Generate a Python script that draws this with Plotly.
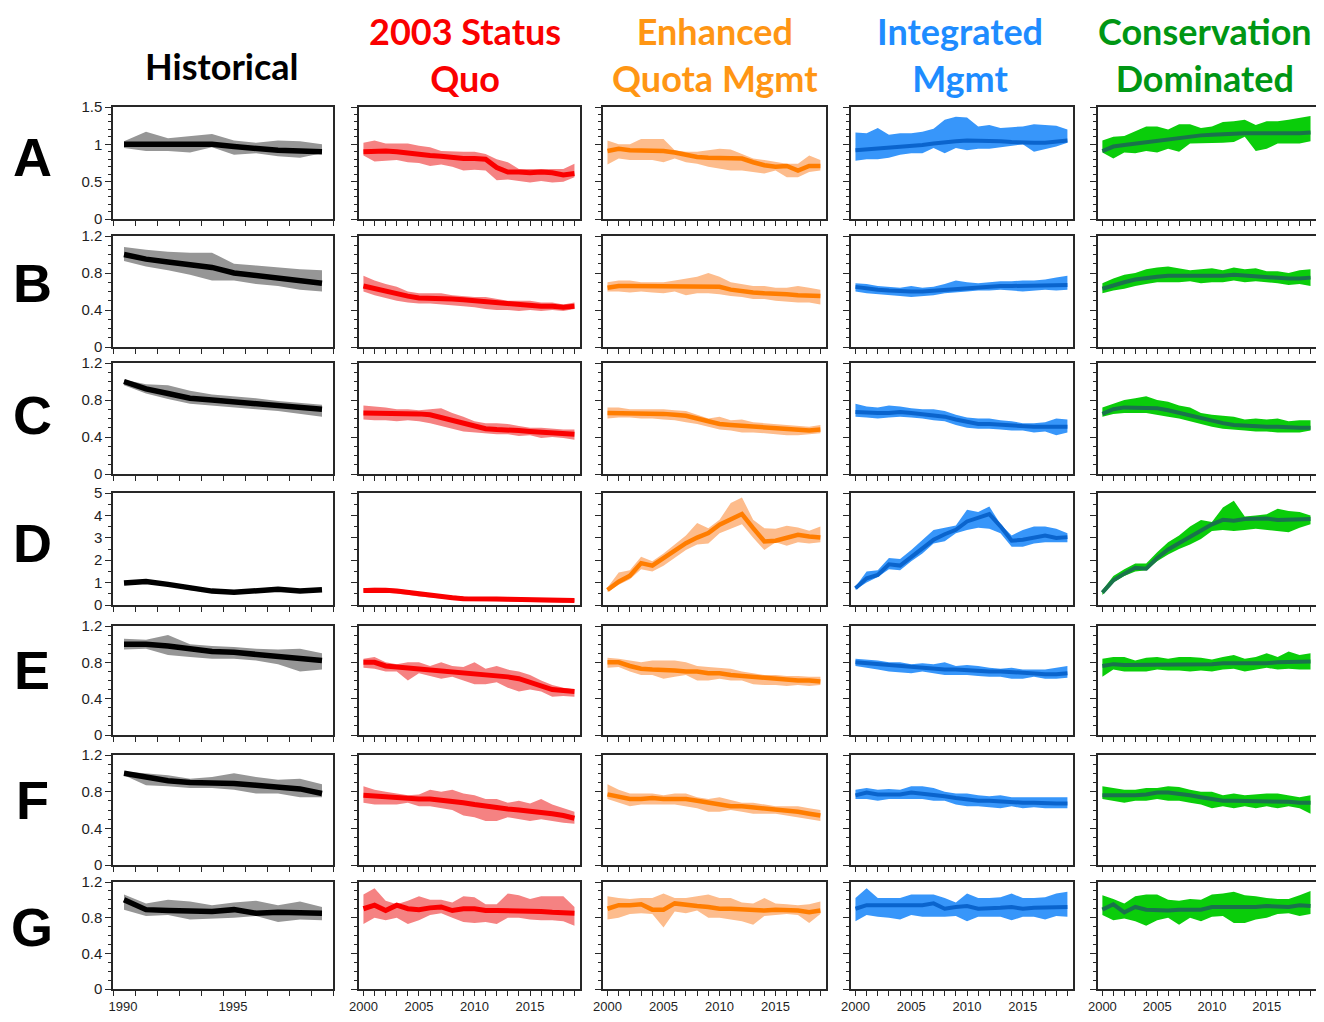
import plotly.graph_objects as go

# ---------------- data ----------------
hist_years = list(range(1990, 2000))
proj_years = list(range(2000, 2020))

row_labels = ["A", "B", "C", "D", "E", "F", "G"]
scenario_keys = ["hist", "sq", "eq", "im", "cd"]
scenario_titles = ["Historical", "2003 Status<br>Quo", "Enhanced<br>Quota Mgmt", "Integrated<br>Mgmt", "Conservation<br>Dominated"]

y_max = [1.5, 1.2, 1.2, 5, 1.2, 1.2, 1.2]
y_tickvals = [[0, 0.5, 1, 1.5], [0, 0.4, 0.8, 1.2], [0, 0.4, 0.8, 1.2], [0, 1, 2, 3, 4, 5],
              [0, 0.4, 0.8, 1.2], [0, 0.4, 0.8, 1.2], [0, 0.4, 0.8, 1.2]]
y_ticktext = [["0", "0.5", "1", "1.5"], ["0", "0.4", "0.8", "1.2"], ["0", "0.4", "0.8", "1.2"],
              ["0", "1", "2", "3", "4", "5"], ["0", "0.4", "0.8", "1.2"], ["0", "0.4", "0.8", "1.2"],
              ["0", "0.4", "0.8", "1.2"]]
x_label_hist = ["1990", "1995"]
x_label_proj = ["2000", "2005", "2010", "2015"]

# Row A
A_hist_mid = [1.00, 1.00, 1.01, 1.01, 1.00, 0.97, 0.94, 0.92, 0.91, 0.90]
A_hist_hi = [1.04, 1.17, 1.08, 1.11, 1.14, 1.05, 1.02, 1.05, 1.04, 1.00]
A_hist_lo = [0.95, 0.91, 0.91, 0.89, 0.96, 0.86, 0.88, 0.84, 0.82, 0.88]
A_sq_mid = [0.90, 0.91, 0.91, 0.90, 0.88, 0.87, 0.85, 0.84, 0.82, 0.81, 0.81, 0.80, 0.69, 0.63, 0.63, 0.62, 0.63, 0.62, 0.59, 0.61]
A_sq_hi = [1.02, 1.05, 1.01, 1.01, 1.01, 0.98, 0.96, 0.91, 0.90, 0.90, 0.90, 0.87, 0.80, 0.76, 0.67, 0.67, 0.67, 0.68, 0.67, 0.74]
A_sq_lo = [0.85, 0.77, 0.78, 0.79, 0.76, 0.75, 0.71, 0.73, 0.70, 0.65, 0.66, 0.65, 0.52, 0.53, 0.51, 0.49, 0.51, 0.49, 0.50, 0.56]
A_eq_mid = [0.91, 0.94, 0.92, 0.92, 0.92, 0.91, 0.89, 0.86, 0.83, 0.82, 0.82, 0.82, 0.81, 0.76, 0.72, 0.70, 0.71, 0.65, 0.71, 0.71]
A_eq_hi = [1.05, 1.00, 1.00, 1.07, 1.07, 1.07, 0.92, 0.90, 0.90, 0.92, 0.94, 0.93, 0.87, 0.81, 0.79, 0.76, 0.74, 0.74, 0.85, 0.79]
A_eq_lo = [0.73, 0.81, 0.79, 0.79, 0.79, 0.76, 0.81, 0.76, 0.74, 0.70, 0.67, 0.65, 0.65, 0.63, 0.61, 0.65, 0.56, 0.56, 0.63, 0.65]
A_im_mid = [0.92, 0.93, 0.94, 0.95, 0.96, 0.97, 0.99, 1.01, 1.03, 1.04, 1.05, 1.05, 1.05, 1.04, 1.03, 1.02, 1.02, 1.02, 1.03, 1.05]
A_im_hi = [1.16, 1.15, 1.22, 1.13, 1.15, 1.15, 1.17, 1.21, 1.33, 1.37, 1.36, 1.24, 1.26, 1.22, 1.23, 1.24, 1.27, 1.26, 1.25, 1.20]
A_im_lo = [0.78, 0.80, 0.80, 0.82, 0.86, 0.88, 0.88, 0.95, 0.88, 0.95, 0.92, 0.94, 0.94, 0.96, 0.98, 1.00, 0.90, 0.93, 0.97, 1.02]
A_cd_mid = [0.91, 0.97, 0.99, 1.01, 1.03, 1.05, 1.07, 1.09, 1.11, 1.12, 1.13, 1.14, 1.15, 1.15, 1.15, 1.15, 1.14, 1.15, 1.15, 1.16]
A_cd_hi = [1.05, 1.10, 1.11, 1.17, 1.24, 1.24, 1.20, 1.27, 1.27, 1.22, 1.24, 1.30, 1.31, 1.33, 1.26, 1.31, 1.31, 1.33, 1.36, 1.38]
A_cd_lo = [0.89, 0.81, 0.89, 0.88, 0.91, 0.89, 0.94, 0.90, 1.01, 1.02, 1.02, 1.02, 1.03, 1.10, 0.91, 0.94, 1.01, 1.01, 1.01, 1.04]

# Row B
B_hist_mid = [1.00, 0.95, 0.92, 0.89, 0.86, 0.80, 0.77, 0.74, 0.71, 0.69]
B_hist_hi = [1.08, 1.05, 1.03, 1.02, 1.02, 0.90, 0.88, 0.86, 0.84, 0.83]
B_hist_lo = [0.93, 0.87, 0.83, 0.78, 0.72, 0.72, 0.68, 0.66, 0.62, 0.60]
B_sq_mid = [0.66, 0.63, 0.60, 0.57, 0.55, 0.53, 0.53, 0.52, 0.52, 0.51, 0.50, 0.48, 0.47, 0.46, 0.45, 0.45, 0.44, 0.44, 0.43, 0.44]
B_sq_hi = [0.77, 0.72, 0.68, 0.65, 0.60, 0.58, 0.58, 0.58, 0.56, 0.55, 0.54, 0.54, 0.52, 0.50, 0.50, 0.50, 0.48, 0.48, 0.46, 0.48]
B_sq_lo = [0.60, 0.56, 0.53, 0.50, 0.48, 0.47, 0.47, 0.46, 0.45, 0.44, 0.43, 0.41, 0.40, 0.40, 0.39, 0.40, 0.39, 0.40, 0.39, 0.41]
B_eq_mid = [0.64, 0.66, 0.66, 0.66, 0.66, 0.65, 0.65, 0.65, 0.66, 0.66, 0.65, 0.62, 0.60, 0.59, 0.58, 0.58, 0.57, 0.56, 0.56, 0.55]
B_eq_hi = [0.70, 0.72, 0.72, 0.70, 0.70, 0.70, 0.72, 0.74, 0.76, 0.80, 0.76, 0.70, 0.68, 0.66, 0.66, 0.64, 0.64, 0.66, 0.64, 0.62]
B_eq_lo = [0.60, 0.60, 0.59, 0.60, 0.59, 0.58, 0.60, 0.56, 0.58, 0.58, 0.57, 0.55, 0.54, 0.52, 0.52, 0.50, 0.49, 0.48, 0.48, 0.46]
B_im_mid = [0.65, 0.63, 0.62, 0.61, 0.60, 0.60, 0.60, 0.61, 0.62, 0.63, 0.64, 0.65, 0.66, 0.66, 0.66, 0.66, 0.67, 0.67, 0.67, 0.67]
B_im_hi = [0.69, 0.68, 0.66, 0.65, 0.64, 0.66, 0.64, 0.65, 0.68, 0.72, 0.70, 0.69, 0.70, 0.71, 0.71, 0.72, 0.72, 0.73, 0.75, 0.77]
B_im_lo = [0.60, 0.58, 0.57, 0.56, 0.55, 0.54, 0.55, 0.56, 0.58, 0.59, 0.60, 0.61, 0.61, 0.62, 0.61, 0.60, 0.61, 0.62, 0.61, 0.62]
B_cd_mid = [0.63, 0.67, 0.70, 0.73, 0.75, 0.76, 0.77, 0.77, 0.77, 0.76, 0.77, 0.77, 0.78, 0.77, 0.77, 0.76, 0.75, 0.74, 0.74, 0.75]
B_cd_hi = [0.69, 0.74, 0.78, 0.80, 0.84, 0.86, 0.87, 0.85, 0.83, 0.84, 0.85, 0.83, 0.86, 0.84, 0.85, 0.82, 0.82, 0.80, 0.83, 0.84]
B_cd_lo = [0.58, 0.61, 0.63, 0.66, 0.68, 0.70, 0.70, 0.70, 0.71, 0.69, 0.70, 0.70, 0.72, 0.70, 0.71, 0.70, 0.69, 0.67, 0.68, 0.66]

# Row C
C_hist_mid = [1.00, 0.92, 0.87, 0.82, 0.80, 0.78, 0.76, 0.74, 0.72, 0.70]
C_hist_hi = [1.02, 0.97, 0.96, 0.90, 0.86, 0.84, 0.82, 0.79, 0.77, 0.75]
C_hist_lo = [0.96, 0.87, 0.81, 0.76, 0.74, 0.72, 0.70, 0.68, 0.65, 0.62]
C_sq_mid = [0.66, 0.66, 0.66, 0.66, 0.66, 0.65, 0.64, 0.61, 0.57, 0.54, 0.51, 0.49, 0.48, 0.48, 0.47, 0.46, 0.45, 0.44, 0.44, 0.43]
C_sq_hi = [0.74, 0.73, 0.72, 0.70, 0.70, 0.69, 0.70, 0.71, 0.66, 0.62, 0.57, 0.55, 0.55, 0.54, 0.52, 0.50, 0.50, 0.49, 0.48, 0.48]
C_sq_lo = [0.59, 0.58, 0.58, 0.57, 0.58, 0.57, 0.55, 0.52, 0.49, 0.46, 0.45, 0.44, 0.43, 0.43, 0.41, 0.42, 0.39, 0.40, 0.39, 0.37]
C_eq_mid = [0.66, 0.66, 0.66, 0.65, 0.65, 0.65, 0.64, 0.63, 0.60, 0.57, 0.54, 0.53, 0.52, 0.51, 0.50, 0.49, 0.48, 0.48, 0.47, 0.48]
C_eq_hi = [0.72, 0.72, 0.70, 0.70, 0.70, 0.70, 0.69, 0.68, 0.64, 0.60, 0.62, 0.58, 0.59, 0.56, 0.55, 0.54, 0.53, 0.52, 0.51, 0.53]
C_eq_lo = [0.60, 0.61, 0.61, 0.60, 0.60, 0.59, 0.58, 0.56, 0.54, 0.51, 0.48, 0.47, 0.45, 0.45, 0.44, 0.43, 0.42, 0.42, 0.43, 0.44]
C_im_mid = [0.67, 0.66, 0.66, 0.66, 0.67, 0.66, 0.65, 0.64, 0.62, 0.59, 0.56, 0.54, 0.54, 0.53, 0.52, 0.52, 0.51, 0.51, 0.51, 0.51]
C_im_hi = [0.76, 0.73, 0.72, 0.74, 0.73, 0.71, 0.70, 0.70, 0.68, 0.64, 0.61, 0.60, 0.60, 0.58, 0.57, 0.55, 0.55, 0.56, 0.60, 0.59]
C_im_lo = [0.62, 0.61, 0.60, 0.61, 0.62, 0.61, 0.60, 0.58, 0.57, 0.53, 0.50, 0.49, 0.49, 0.48, 0.47, 0.47, 0.45, 0.46, 0.42, 0.45]
C_cd_mid = [0.65, 0.70, 0.72, 0.72, 0.72, 0.71, 0.69, 0.66, 0.63, 0.60, 0.57, 0.55, 0.53, 0.52, 0.52, 0.51, 0.51, 0.50, 0.50, 0.50]
C_cd_hi = [0.72, 0.76, 0.80, 0.82, 0.84, 0.80, 0.78, 0.74, 0.72, 0.66, 0.64, 0.63, 0.62, 0.59, 0.60, 0.59, 0.60, 0.57, 0.58, 0.58]
C_cd_lo = [0.62, 0.65, 0.66, 0.66, 0.66, 0.64, 0.62, 0.60, 0.57, 0.54, 0.51, 0.49, 0.48, 0.47, 0.46, 0.46, 0.45, 0.45, 0.45, 0.47]

# Row D
D_hist_mid = [0.98, 1.05, 0.92, 0.74, 0.62, 0.57, 0.63, 0.70, 0.62, 0.68]
D_hist_hi = [1.05, 1.13, 1.00, 0.82, 0.70, 0.66, 0.72, 0.80, 0.70, 0.76]
D_hist_lo = [0.92, 0.98, 0.85, 0.66, 0.55, 0.50, 0.56, 0.62, 0.55, 0.60]
D_sq_mid = [0.65, 0.66, 0.66, 0.62, 0.56, 0.46, 0.40, 0.36, 0.32, 0.28, 0.26, 0.26, 0.27, 0.26, 0.25, 0.23, 0.21, 0.18, 0.17, 0.20]
D_sq_hi = [0.75, 0.78, 0.76, 0.72, 0.66, 0.56, 0.50, 0.46, 0.42, 0.38, 0.34, 0.36, 0.37, 0.35, 0.34, 0.32, 0.30, 0.27, 0.26, 0.28]
D_sq_lo = [0.56, 0.56, 0.56, 0.52, 0.46, 0.38, 0.32, 0.28, 0.24, 0.20, 0.18, 0.18, 0.19, 0.18, 0.17, 0.15, 0.13, 0.11, 0.10, 0.13]
D_eq_mid = [0.67, 1.04, 1.31, 1.87, 1.76, 2.09, 2.39, 2.76, 3.01, 3.21, 3.58, 3.81, 4.06, 3.43, 2.84, 2.87, 2.99, 3.13, 3.06, 3.01]
D_eq_hi = [0.78, 1.45, 1.55, 2.15, 1.95, 2.30, 2.70, 3.10, 3.66, 3.43, 3.81, 4.55, 4.80, 3.81, 3.43, 3.40, 3.54, 3.46, 3.31, 3.51]
D_eq_lo = [0.58, 0.90, 1.15, 1.60, 1.50, 1.75, 2.10, 2.45, 2.70, 2.75, 3.20, 3.40, 3.60, 3.00, 2.45, 2.80, 2.65, 2.80, 2.75, 2.80]
D_im_mid = [0.75, 1.19, 1.34, 1.82, 1.76, 2.16, 2.54, 2.91, 3.16, 3.36, 3.73, 3.91, 4.06, 3.51, 2.87, 2.91, 2.99, 3.10, 2.99, 3.03]
D_im_hi = [0.82, 1.50, 1.55, 2.10, 2.05, 2.45, 2.90, 3.35, 3.45, 3.55, 4.25, 4.15, 4.40, 3.60, 3.10, 3.35, 3.50, 3.50, 3.40, 3.20]
D_im_lo = [0.68, 1.00, 1.25, 1.60, 1.55, 1.95, 2.30, 2.75, 2.85, 3.20, 3.35, 3.45, 3.40, 3.20, 2.60, 2.60, 2.75, 2.80, 2.80, 2.80]
D_cd_mid = [0.55, 1.10, 1.40, 1.66, 1.62, 2.10, 2.48, 2.76, 3.04, 3.30, 3.60, 3.80, 3.76, 3.84, 3.86, 3.86, 3.80, 3.80, 3.82, 3.84]
D_cd_hi = [0.66, 1.30, 1.60, 1.85, 1.85, 2.35, 2.80, 3.10, 3.50, 3.80, 3.70, 4.35, 4.65, 3.95, 4.00, 4.05, 4.30, 4.20, 4.15, 4.00]
D_cd_lo = [0.45, 1.00, 1.30, 1.50, 1.55, 1.95, 2.25, 2.50, 2.70, 2.95, 3.30, 3.35, 3.30, 3.35, 3.40, 3.35, 3.30, 3.25, 3.45, 3.60]

# Row E
E_hist_mid = [1.00, 1.00, 0.98, 0.95, 0.92, 0.91, 0.89, 0.87, 0.85, 0.82]
E_hist_hi = [1.06, 1.05, 1.10, 1.00, 0.98, 0.97, 0.95, 0.94, 0.95, 0.90]
E_hist_lo = [0.94, 0.95, 0.88, 0.86, 0.84, 0.84, 0.82, 0.78, 0.70, 0.72]
E_sq_mid = [0.80, 0.80, 0.76, 0.75, 0.74, 0.73, 0.72, 0.71, 0.70, 0.68, 0.67, 0.66, 0.65, 0.64, 0.62, 0.58, 0.54, 0.50, 0.49, 0.48]
E_sq_hi = [0.84, 0.86, 0.80, 0.78, 0.80, 0.80, 0.76, 0.80, 0.76, 0.75, 0.80, 0.73, 0.76, 0.72, 0.70, 0.66, 0.60, 0.55, 0.52, 0.50]
E_sq_lo = [0.74, 0.73, 0.70, 0.70, 0.60, 0.68, 0.65, 0.62, 0.64, 0.60, 0.56, 0.56, 0.58, 0.52, 0.48, 0.50, 0.48, 0.42, 0.43, 0.42]
E_eq_mid = [0.80, 0.80, 0.76, 0.73, 0.72, 0.72, 0.71, 0.70, 0.70, 0.68, 0.68, 0.66, 0.65, 0.63, 0.62, 0.61, 0.61, 0.60, 0.60, 0.59]
E_eq_hi = [0.85, 0.84, 0.82, 0.80, 0.82, 0.82, 0.82, 0.80, 0.76, 0.75, 0.74, 0.73, 0.70, 0.68, 0.66, 0.66, 0.65, 0.65, 0.64, 0.64]
E_eq_lo = [0.74, 0.75, 0.70, 0.66, 0.66, 0.62, 0.64, 0.66, 0.60, 0.60, 0.62, 0.60, 0.60, 0.56, 0.55, 0.55, 0.54, 0.55, 0.54, 0.55]
E_im_mid = [0.80, 0.79, 0.77, 0.76, 0.75, 0.74, 0.74, 0.73, 0.72, 0.72, 0.71, 0.70, 0.70, 0.70, 0.69, 0.68, 0.68, 0.67, 0.67, 0.68]
E_im_hi = [0.84, 0.83, 0.82, 0.80, 0.80, 0.78, 0.79, 0.78, 0.80, 0.76, 0.77, 0.76, 0.74, 0.73, 0.74, 0.72, 0.72, 0.72, 0.74, 0.76]
E_im_lo = [0.76, 0.74, 0.72, 0.70, 0.69, 0.68, 0.70, 0.68, 0.66, 0.66, 0.66, 0.65, 0.64, 0.64, 0.62, 0.62, 0.64, 0.62, 0.62, 0.63]
E_cd_mid = [0.76, 0.78, 0.77, 0.77, 0.77, 0.78, 0.78, 0.77, 0.78, 0.78, 0.78, 0.79, 0.79, 0.78, 0.78, 0.79, 0.80, 0.80, 0.81, 0.81]
E_cd_hi = [0.84, 0.86, 0.86, 0.82, 0.85, 0.86, 0.84, 0.86, 0.86, 0.85, 0.83, 0.86, 0.88, 0.84, 0.86, 0.90, 0.86, 0.92, 0.88, 0.90]
E_cd_lo = [0.64, 0.72, 0.70, 0.70, 0.70, 0.72, 0.71, 0.71, 0.70, 0.71, 0.70, 0.72, 0.73, 0.70, 0.72, 0.74, 0.72, 0.73, 0.72, 0.72]

# Row F
F_hist_mid = [1.00, 0.96, 0.92, 0.90, 0.90, 0.89, 0.87, 0.85, 0.83, 0.78]
F_hist_hi = [1.02, 1.00, 0.98, 0.94, 0.96, 1.00, 0.96, 0.93, 0.94, 0.88]
F_hist_lo = [0.98, 0.87, 0.86, 0.84, 0.84, 0.82, 0.78, 0.78, 0.74, 0.74]
F_sq_mid = [0.76, 0.75, 0.74, 0.73, 0.73, 0.72, 0.72, 0.71, 0.70, 0.68, 0.66, 0.64, 0.62, 0.61, 0.60, 0.59, 0.58, 0.56, 0.54, 0.51]
F_sq_hi = [0.86, 0.82, 0.80, 0.78, 0.76, 0.77, 0.82, 0.80, 0.82, 0.78, 0.76, 0.72, 0.72, 0.68, 0.70, 0.67, 0.72, 0.66, 0.62, 0.58]
F_sq_lo = [0.68, 0.66, 0.66, 0.66, 0.68, 0.64, 0.64, 0.62, 0.60, 0.54, 0.52, 0.48, 0.48, 0.52, 0.50, 0.48, 0.50, 0.48, 0.46, 0.45]
F_eq_mid = [0.77, 0.75, 0.72, 0.72, 0.73, 0.72, 0.72, 0.72, 0.70, 0.68, 0.66, 0.64, 0.64, 0.63, 0.62, 0.61, 0.60, 0.58, 0.56, 0.54]
F_eq_hi = [0.88, 0.82, 0.78, 0.78, 0.78, 0.76, 0.78, 0.78, 0.74, 0.72, 0.74, 0.71, 0.68, 0.68, 0.66, 0.64, 0.64, 0.64, 0.62, 0.60]
F_eq_lo = [0.72, 0.68, 0.64, 0.66, 0.66, 0.66, 0.66, 0.64, 0.62, 0.58, 0.58, 0.60, 0.58, 0.56, 0.56, 0.56, 0.54, 0.52, 0.50, 0.48]
F_im_mid = [0.76, 0.79, 0.77, 0.77, 0.77, 0.79, 0.78, 0.76, 0.75, 0.73, 0.71, 0.70, 0.70, 0.69, 0.69, 0.68, 0.68, 0.67, 0.67, 0.67]
F_im_hi = [0.82, 0.84, 0.82, 0.83, 0.82, 0.86, 0.86, 0.84, 0.80, 0.78, 0.78, 0.76, 0.75, 0.76, 0.74, 0.74, 0.74, 0.74, 0.74, 0.74]
F_im_lo = [0.72, 0.72, 0.70, 0.72, 0.72, 0.72, 0.72, 0.70, 0.70, 0.66, 0.64, 0.64, 0.63, 0.62, 0.64, 0.62, 0.63, 0.62, 0.62, 0.62]
F_cd_mid = [0.76, 0.76, 0.75, 0.76, 0.77, 0.79, 0.79, 0.78, 0.76, 0.74, 0.72, 0.70, 0.70, 0.70, 0.69, 0.70, 0.70, 0.69, 0.68, 0.68]
F_cd_hi = [0.86, 0.84, 0.82, 0.82, 0.84, 0.84, 0.86, 0.85, 0.82, 0.80, 0.80, 0.76, 0.78, 0.76, 0.77, 0.78, 0.78, 0.76, 0.74, 0.76]
F_cd_lo = [0.72, 0.70, 0.68, 0.70, 0.70, 0.72, 0.70, 0.70, 0.68, 0.66, 0.62, 0.64, 0.62, 0.64, 0.62, 0.64, 0.62, 0.64, 0.62, 0.56]

# Row G
G_hist_mid = [1.00, 0.89, 0.88, 0.87, 0.87, 0.89, 0.85, 0.86, 0.86, 0.85]
G_hist_hi = [1.06, 0.96, 1.00, 0.98, 0.94, 0.97, 0.99, 0.94, 0.98, 0.92]
G_hist_lo = [0.89, 0.82, 0.83, 0.78, 0.79, 0.80, 0.82, 0.75, 0.78, 0.77]
G_sq_mid = [0.90, 0.94, 0.88, 0.94, 0.90, 0.89, 0.91, 0.92, 0.88, 0.90, 0.90, 0.88, 0.88, 0.88, 0.88, 0.88, 0.87, 0.86, 0.86, 0.85]
G_sq_hi = [1.06, 1.13, 0.99, 0.95, 0.99, 1.04, 1.00, 1.00, 0.97, 1.04, 1.03, 0.95, 0.95, 1.07, 1.05, 1.01, 1.04, 1.04, 1.04, 0.92]
G_sq_lo = [0.73, 0.80, 0.77, 0.80, 0.73, 0.77, 0.83, 0.85, 0.80, 0.75, 0.74, 0.75, 0.73, 0.80, 0.80, 0.78, 0.77, 0.77, 0.76, 0.71]
G_eq_mid = [0.90, 0.94, 0.94, 0.95, 0.89, 0.89, 0.96, 0.94, 0.93, 0.92, 0.90, 0.90, 0.89, 0.88, 0.88, 0.89, 0.89, 0.88, 0.86, 0.88]
G_eq_hi = [1.04, 1.02, 1.01, 1.02, 1.02, 1.07, 1.02, 1.02, 1.04, 1.06, 1.02, 1.02, 0.97, 0.96, 1.02, 0.96, 0.95, 0.94, 0.95, 0.98]
G_eq_lo = [0.78, 0.80, 0.84, 0.85, 0.84, 0.69, 0.87, 0.85, 0.88, 0.80, 0.80, 0.78, 0.76, 0.72, 0.82, 0.83, 0.84, 0.83, 0.74, 0.84]
G_im_mid = [0.90, 0.94, 0.94, 0.94, 0.95, 0.94, 0.94, 0.96, 0.90, 0.92, 0.93, 0.90, 0.90, 0.91, 0.92, 0.90, 0.91, 0.91, 0.91, 0.92]
G_im_hi = [1.02, 1.13, 1.02, 1.02, 1.02, 1.06, 1.06, 1.06, 1.02, 0.97, 1.07, 1.02, 1.02, 1.03, 1.07, 1.02, 1.02, 1.03, 1.07, 1.09]
G_im_lo = [0.76, 0.83, 0.81, 0.80, 0.78, 0.83, 0.81, 0.81, 0.81, 0.82, 0.76, 0.81, 0.81, 0.81, 0.77, 0.81, 0.81, 0.78, 0.82, 0.81]
G_cd_mid = [0.89, 0.95, 0.86, 0.92, 0.89, 0.88, 0.88, 0.89, 0.89, 0.89, 0.92, 0.92, 0.91, 0.91, 0.92, 0.93, 0.93, 0.92, 0.94, 0.93]
G_cd_hi = [1.05, 1.01, 0.96, 1.04, 1.06, 1.06, 1.00, 0.99, 1.01, 1.00, 1.06, 1.07, 1.09, 1.05, 1.04, 1.02, 1.01, 1.01, 1.05, 1.10]
G_cd_lo = [0.83, 0.77, 0.79, 0.76, 0.71, 0.77, 0.80, 0.72, 0.80, 0.76, 0.81, 0.82, 0.74, 0.74, 0.78, 0.80, 0.84, 0.85, 0.82, 0.84]

DATA = {}
for _r in row_labels:
    for _s in scenario_keys:
        DATA[(_r, _s)] = (globals()[f"{_r}_{_s}_lo"], globals()[f"{_r}_{_s}_mid"], globals()[f"{_r}_{_s}_hi"])

# ---------------- style ----------------
# page body has an 8px margin; figure sized to fit the window without scrollbars
OFF = 8
W, H = 1324 - 2 * OFF, 1022 - 2 * OFF


def px_x(v):
    return min(max((v - OFF) / W, 0), 1)


def px_y(v):
    return min(max(1 - (v - OFF) / H, 0), 1)


band_colors = ["rgb(150,150,150)", "rgb(245,130,130)", "rgb(253,188,140)", "rgb(55,150,250)", "rgb(10,205,10)"]
line_colors = ["rgb(0,0,0)", "rgb(250,0,0)", "rgb(255,125,0)", "rgb(10,100,205)", "rgb(25,115,75)"]
line_widths = [5.5, 5, 4.5, 4, 4]
title_colors = ["rgb(0,0,0)", "rgb(250,0,0)", "rgb(255,150,20)", "rgb(30,140,255)", "rgb(0,150,20)"]

# reference-pixel boxes of the panels
col_px = [(113, 333), (359, 580), (603, 826), (851, 1073), (1098, 1316)]
row_px = [(107, 219), (236, 347), (363, 474), (493, 605), (626, 735), (755, 865), (882, 989)]
minor_dt = [0.1, 0.1, 0.1, 0.5, 0.1, 0.1, 0.1]

fig = go.Figure()
layout_axes = {}
axis_line = "rgb(40,40,40)"
ytick_font = dict(family="Liberation Sans, Arial, sans-serif", size=15, color="rgb(30,30,30)")
xtick_font = dict(family="Liberation Sans, Arial, sans-serif", size=13, color="rgb(30,30,30)")

for r, rl in enumerate(row_labels):
    for c, sk in enumerate(scenario_keys):
        k = r * 5 + c + 1
        xa = "x" if k == 1 else f"x{k}"
        ya = "y" if k == 1 else f"y{k}"
        years = hist_years if c == 0 else proj_years
        lo, mid, hi = DATA[(rl, sk)]
        fig.add_trace(go.Scatter(
            x=years + years[::-1], y=hi + lo[::-1], xaxis=xa, yaxis=ya,
            fill="toself", fillcolor=band_colors[c], line=dict(width=0),
            mode="lines", hoverinfo="skip", showlegend=False))
        fig.add_trace(go.Scatter(
            x=years, y=mid, xaxis=xa, yaxis=ya, mode="lines",
            line=dict(color=line_colors[c], width=line_widths[c]),
            showlegend=False))

        x0, x1 = col_px[c]
        yt, yb = row_px[r]
        last_row = (r == len(row_labels) - 1)
        if c == 0:
            # tick marks sit between the yearly points; labels shifted back onto the points
            tv = [y - 0.5 for y in hist_years] + [hist_years[-1] + 0.5]
            tt = [(str(int(v - 0.5)) if str(int(v - 0.5)) in x_label_hist else "") for v in tv]
            xr = [hist_years[0] - 0.5, hist_years[-1] + 0.5]
            shift = -12
        else:
            tv = proj_years
            tt = [(str(v) if str(v) in x_label_proj else "") for v in tv]
            xr = [proj_years[0] - 0.4, proj_years[-1] + 0.5]
            shift = 0
        xkey = "xaxis" if k == 1 else f"xaxis{k}"
        ykey = "yaxis" if k == 1 else f"yaxis{k}"
        layout_axes[xkey] = dict(
            domain=[px_x(x0), px_x(x1)], anchor=ya, range=xr, automargin=False,
            tickmode="array", tickvals=tv, ticktext=tt, showticklabels=last_row,
            ticklabelshift=shift,
            ticks="outside", ticklen=5, tickwidth=1.2, tickcolor=axis_line,
            showline=True, mirror=True, linecolor=axis_line, linewidth=1.5,
            showgrid=False, zeroline=False, tickfont=xtick_font, fixedrange=True)
        layout_axes[ykey] = dict(
            domain=[px_y(yb), px_y(yt)], anchor=xa, range=[0, y_max[r]], automargin=False,
            tickmode="array", tickvals=y_tickvals[r], ticktext=y_ticktext[r],
            showticklabels=(c == 0),
            ticks="outside", ticklen=6, tickwidth=1.2, tickcolor=axis_line,
            minor=dict(dtick=minor_dt[r], ticks="outside", ticklen=3, tickcolor=axis_line, tickwidth=1),
            showline=True, mirror=True, linecolor=axis_line, linewidth=1.5,
            showgrid=False, zeroline=False, tickfont=ytick_font, fixedrange=True)

annotations = []
# row letters
row_centers = [157, 283, 415, 543, 670, 800, 927]
for rl, yc in zip(row_labels, row_centers):
    annotations.append(dict(
        text=f"<b>{rl}</b>", x=px_x(32), y=px_y(yc), xref="paper", yref="paper",
        xanchor="center", yanchor="middle", showarrow=False,
        font=dict(family="Liberation Sans, Arial, sans-serif", size=54, color="black")))
# column titles
title_x = [222, 465, 715, 960, 1205]
for c, (t, col) in enumerate(zip(scenario_titles, title_colors)):
    yc = 66 if c == 0 else 54
    annotations.append(dict(
        text=f"<b>{t}</b>", x=px_x(title_x[c]), y=px_y(yc), xref="paper", yref="paper",
        xanchor="center", yanchor="middle", showarrow=False, align="center",
        font=dict(family="Lato, Open Sans, sans-serif", size=36, color=col)))

fig.update_layout(
    width=W, height=H, margin=dict(l=0, r=0, t=0, b=0, autoexpand=False),
    paper_bgcolor="white", plot_bgcolor="white",
    showlegend=False, annotations=annotations, **layout_axes)

fig.write_html("out.html")
